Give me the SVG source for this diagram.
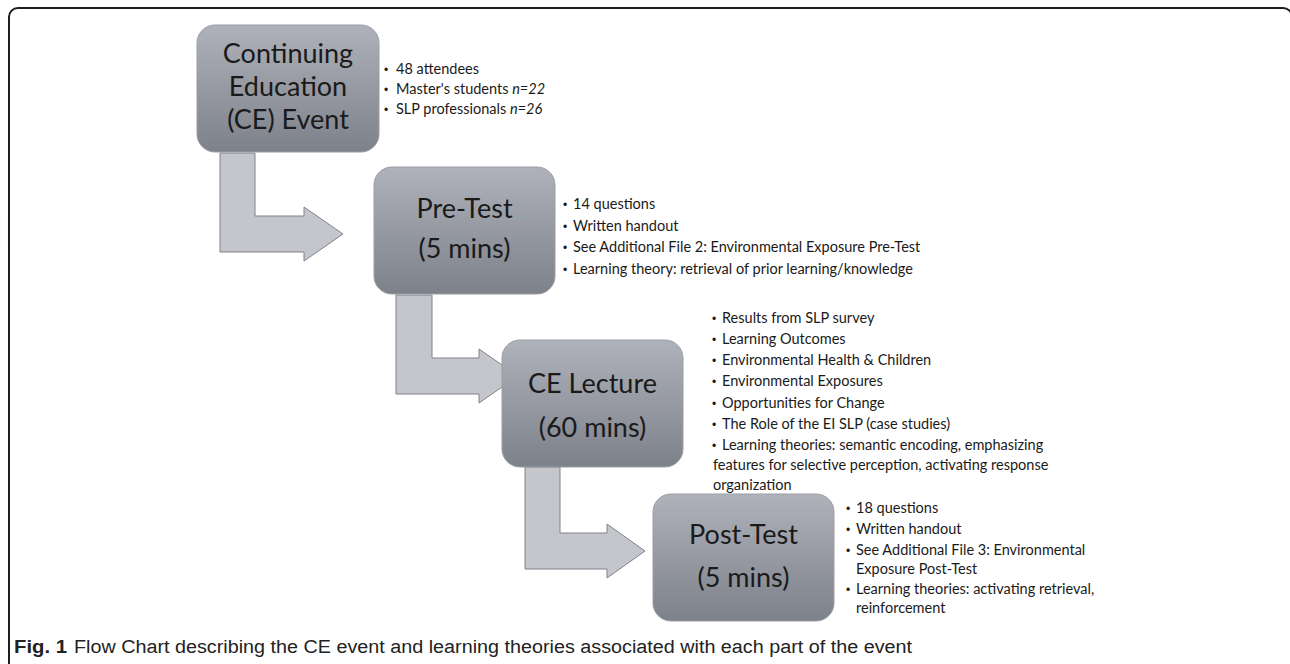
<svg xmlns="http://www.w3.org/2000/svg" width="1290" height="664" viewBox="0 0 1290 664">
<defs>
<linearGradient id="g" x1="0" y1="0" x2="0" y2="1">
<stop offset="0" stop-color="#afb2ba"/>
<stop offset="1" stop-color="#7d818a"/>
</linearGradient>
</defs>
<style>
.box{fill:url(#g);stroke:#9a9da5;stroke-width:1}
.lbl{font-family:Lato,"Liberation Sans",sans-serif;font-size:27px;fill:#1a1a1a;text-anchor:middle}
.bl{font-family:Lato,"Liberation Sans",sans-serif;font-size:14.5px;fill:#1a1a1a}
.dot{font-family:"Liberation Sans",sans-serif;font-size:12px;fill:#1a1a1a}
.arr{fill:#c4c6cc;stroke:#7e828a;stroke-width:1}
.cap{font-family:"Liberation Sans",sans-serif;font-size:18px;fill:#222}
</style>
<rect x="9" y="8" width="1283" height="700" rx="9" fill="#fff" stroke="#1e1e1e" stroke-width="2"/>
<g id="connectors">
<polygon class="arr" points="220,153 255,153 255,216 304,216 304,207 343,234 304,261 304,252 220,252"/>
<polygon class="arr" points="396,295 432,295 432,358 479,358 479,349 518,376 479,403 479,394 396,394"/>
<polygon class="arr" points="525,467 560,467 560,533 607,533 607,524 645,551 607,578 607,569 525,569"/>
</g>
<g id="n1">
<rect class="box" x="197" y="25" width="182" height="127" rx="18"/>
<text class="lbl" x="288" y="63">Continuing</text>
<text class="lbl" x="288" y="96">Education</text>
<text class="lbl" x="288" y="129">(CE) Event</text>
<text class="dot" x="384" y="74">•</text><text class="bl" x="396" y="74">48 attendees</text>
<text class="dot" x="384" y="94">•</text><text class="bl" x="396" y="94">Master's students <tspan font-style="italic">n=22</tspan></text>
<text class="dot" x="384" y="114">•</text><text class="bl" x="396" y="114">SLP professionals <tspan font-style="italic">n=26</tspan></text>
</g>
<g id="n2">
<rect class="box" x="374" y="167" width="181" height="127" rx="18"/>
<text class="lbl" x="464.5" y="218">Pre-Test</text>
<text class="lbl" x="464.5" y="258">(5 mins)</text>
<text class="dot" x="563" y="209">•</text><text class="bl" x="573" y="209">14 questions</text>
<text class="dot" x="563" y="230.5">•</text><text class="bl" x="573" y="230.5">Written handout</text>
<text class="dot" x="563" y="252">•</text><text class="bl" x="573" y="252">See Additional File 2: Environmental Exposure Pre-Test</text>
<text class="dot" x="563" y="273.5">•</text><text class="bl" x="573" y="273.5">Learning theory: retrieval of prior learning/knowledge</text>
</g>
<g id="n3">
<rect class="box" x="502" y="340" width="181" height="127" rx="18"/>
<text class="lbl" x="592.5" y="393">CE Lecture</text>
<text class="lbl" x="592.5" y="437">(60 mins)</text>
<text class="dot" x="712" y="323">•</text><text class="bl" x="722" y="323">Results from SLP survey</text>
<text class="dot" x="712" y="344">•</text><text class="bl" x="722" y="344">Learning Outcomes</text>
<text class="dot" x="712" y="365">•</text><text class="bl" x="722" y="365">Environmental Health &amp; Children</text>
<text class="dot" x="712" y="386">•</text><text class="bl" x="722" y="386">Environmental Exposures</text>
<text class="dot" x="712" y="407.5">•</text><text class="bl" x="722" y="407.5">Opportunities for Change</text>
<text class="dot" x="712" y="428.5">•</text><text class="bl" x="722" y="428.5">The Role of the EI SLP (case studies)</text>
<text class="dot" x="712" y="449.5">•</text><text class="bl" x="722" y="449.5">Learning theories: semantic encoding, emphasizing</text>
<text class="bl" x="713" y="470">features for selective perception, activating response</text>
<text class="bl" x="713" y="489.5">organization</text>
</g>
<g id="n4">
<rect class="box" x="653" y="494" width="181" height="127" rx="18"/>
<text class="lbl" x="743.5" y="544">Post-Test</text>
<text class="lbl" x="743.5" y="587">(5 mins)</text>
<text class="dot" x="846" y="513">•</text><text class="bl" x="856" y="513">18 questions</text>
<text class="dot" x="846" y="534">•</text><text class="bl" x="856" y="534">Written handout</text>
<text class="dot" x="846" y="555">•</text><text class="bl" x="856" y="555">See Additional File 3: Environmental</text>
<text class="bl" x="856" y="574">Exposure Post-Test</text>
<text class="dot" x="846" y="594">•</text><text class="bl" x="856" y="594">Learning theories: activating retrieval,</text>
<text class="bl" x="856" y="613">reinforcement</text>
</g>
<g id="caption">
<text class="cap" x="14" y="653" font-weight="bold" textLength="53" lengthAdjust="spacingAndGlyphs">Fig. 1</text>
<text class="cap" x="74" y="653" textLength="838" lengthAdjust="spacingAndGlyphs">Flow Chart describing the CE event and learning theories associated with each part of the event</text>
</g>
</svg>
